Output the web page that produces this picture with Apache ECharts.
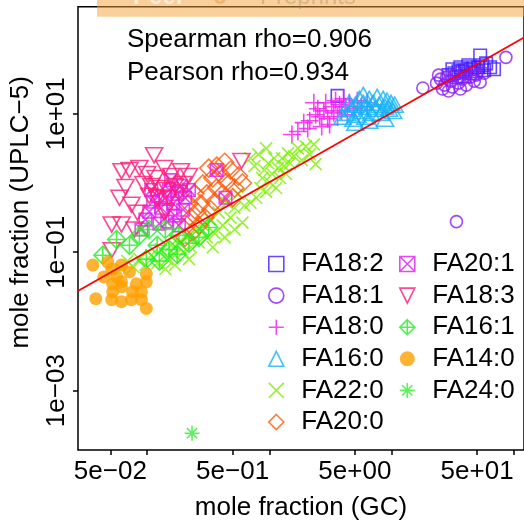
<!DOCTYPE html>
<html>
<head>
<meta charset="utf-8">
<script src="https://cdn.jsdelivr.net/npm/echarts@6/dist/echarts.min.js"></script>
<style>
  html, body { margin: 0; padding: 0; background: #ffffff; }
  #chart { width: 524px; height: 526px; }
</style>
</head>
<body>
<div id="chart"></div>
<script>
// Mole fractions measured by GC (x) and UPLC-5 (y), one pair of arrays per fatty acid.
const FA18_2_GC   = [3.61, 53.0, 63.9, 29.2, 32.6, 35.2, 37.9, 40.8, 44.0, 47.4, 51.1, 55.1, 59.3, 33.9, 39.4, 45.7, 42.4, 49.2, 57.1, 31.4, 36.5, 68.8];
const FA18_2_UPLC = [18.1, 69.6, 46.9, 36.1, 38.5, 41.1, 41.1, 43.9, 43.9, 46.9, 46.9, 50.1, 53.5, 33.8, 34.9, 38.5, 50.1, 41.1, 42.5, 43.9, 46.9, 43.9];

const FA18_1_GC   = [18.0, 86.1, 33.9, 23.3, 25.1, 27.1, 28.1, 30.3, 31.4, 32.6, 35.2, 37.9, 40.8, 44.0, 47.4, 53.0, 57.1, 26.1, 29.2, 36.5, 24.2, 39.4, 49.2];
const FA18_1_UPLC = [23.6, 65.3, 0.277, 27.7, 31.6, 25.9, 33.8, 29.6, 24.4, 36.1, 27.7, 31.6, 25.9, 33.8, 29.6, 28.6, 38.5, 22.8, 21.3, 22.8, 36.1, 38.5, 36.1];

const FA18_0_GC   = [1.53, 1.71, 2.06, 2.14, 2.39, 2.49, 2.58, 2.79, 2.89, 3.00, 3.23, 3.36, 3.48, 3.61, 3.75, 3.89, 4.04, 4.19, 4.35, 4.51, 4.87, 5.24, 5.65, 3.11, 2.68, 1.91, 2.31, 6.32];
const FA18_0_UPLC = [5.01, 5.53, 6.11, 7.94, 9.68, 11.8, 9.06, 11.0, 14.4, 8.48, 12.6, 10.3, 15.4, 9.06, 13.5, 11.0, 16.4, 12.6, 9.68, 14.4, 11.8, 15.4, 12.6, 6.97, 6.53, 7.44, 14.4, 14.4];

const FA16_0_GC   = [3.96, 4.35, 4.69, 4.87, 5.05, 5.24, 5.44, 5.65, 5.86, 6.08, 6.32, 6.56, 6.81, 7.07, 7.34, 7.61, 7.90, 8.20, 8.52, 8.84, 9.17, 9.52, 9.89, 10.3, 10.6, 4.51, 5.86, 5.05, 6.56, 8.84];
const FA16_0_UPLC = [9.06, 10.3, 11.8, 8.48, 13.5, 9.68, 16.4, 11.0, 14.4, 9.06, 12.6, 16.4, 10.3, 14.4, 11.8, 17.5, 13.5, 10.3, 16.4, 12.6, 15.4, 11.8, 14.4, 11.0, 13.5, 14.4, 18.7, 7.44, 7.94, 8.48];

const FA22_0_GC   = [0.782, 0.842, 0.875, 0.908, 0.942, 0.978, 1.015, 1.054, 1.094, 1.135, 1.178, 1.223, 1.27, 1.318, 1.368, 1.42, 1.474, 1.589, 1.711, 1.844, 1.987, 2.14, 2.31, 0.699, 0.625, 0.754, 0.942, 2.39, 0.699, 0.812,
                     0.559, 0.519, 0.481, 0.447, 0.415, 0.385, 0.357, 0.331, 0.308, 0.286, 0.265, 0.246, 0.228, 0.212, 0.197, 0.182, 0.169, 0.157, 0.431, 0.344, 0.602, 0.519,
                     0.146, 0.130, 0.121, 0.108, 0.0968, 0.0865, 0.0773, 0.0690, 0.0617, 0.141, 0.169, 0.220];
const FA22_0_UPLC = [0.611, 0.848, 1.18, 1.54, 0.744, 1.93, 1.00, 1.35, 2.28, 0.848, 1.64, 1.18, 2.28, 1.75, 1.35, 2.68, 1.93, 2.44, 3.16, 2.13, 3.38, 2.59, 3.61, 0.518, 0.469, 1.75, 3.16, 1.87, 2.28, 2.59,
                     0.697, 0.439, 0.316, 0.518, 0.244, 0.373, 0.187, 0.296, 0.164, 0.244, 0.139, 0.213, 0.118, 0.164, 0.100, 0.139, 0.0906, 0.126, 0.164, 0.118, 0.268, 0.213,
                     0.0794, 0.110, 0.0697, 0.0906, 0.0653, 0.0794, 0.0611, 0.0744, 0.0572, 0.0572, 0.0653, 0.0794];

const FA20_0_GC   = [0.602, 0.559, 0.519, 0.481, 0.447, 0.415, 0.399, 0.371, 0.357, 0.344, 0.331, 0.308, 0.297, 0.286, 0.275, 0.265, 0.255, 0.246, 0.237, 0.228, 0.220, 0.212, 0.204, 0.319, 0.431, 0.371, 0.500];
const FA20_0_UPLC = [1.00, 1.26, 0.848, 1.54, 1.03, 0.697, 1.35, 0.848, 0.535, 1.18, 0.411, 0.697, 0.316, 0.968, 0.501, 0.244, 0.385, 0.697, 0.199, 0.316, 0.501, 0.244, 0.164, 1.64, 1.99, 1.75, 0.611];

const FA20_1_GC   = [0.371, 0.438, 0.220, 0.204, 0.189, 0.176, 0.163, 0.151, 0.141, 0.130, 0.121, 0.112, 0.104, 0.0968, 0.0898, 0.169, 0.146, 0.197, 0.126, 0.108, 0.157, 0.182];
const FA20_1_UPLC = [1.54, 0.611, 0.794, 0.611, 0.906, 0.697, 0.501, 0.794, 0.611, 0.439, 0.653, 0.535, 0.385, 0.296, 0.213, 0.338, 0.277, 0.411, 0.259, 0.794, 1.10, 0.244];

const FA18_3_GC   = [0.114, 0.0617, 0.0717, 0.0865, 0.100, 0.117, 0.138, 0.157, 0.189, 0.220, 0.108, 0.126, 0.146, 0.169, 0.197, 0.0932, 0.0594, 0.0744, 0.0832, 0.0513, 0.0617, 0.0787, 0.138, 0.591, 0.143, 0.0513, 0.104, 0.121, 0.151, 0.182, 0.0665];
const FA18_3_UPLC = [2.51, 1.48, 1.54, 1.64, 1.35, 1.18, 1.64, 1.26, 1.48, 1.26, 0.906, 0.848, 0.794, 0.906, 0.968, 0.968, 0.611, 0.485, 0.373, 0.251, 0.251, 0.213, 0.373, 2.07, 0.398, 0.107, 0.653, 0.611, 0.611, 0.720, 0.876];

const FA16_1_GC   = [0.0434, 0.0563, 0.0717, 0.0865, 0.104, 0.0985, 0.126, 0.151, 0.176, 0.220, 0.265, 0.121, 0.182, 0.319, 0.141];
const FA16_1_UPLC = [0.0906, 0.153, 0.126, 0.175, 0.213, 0.0794, 0.0744, 0.110, 0.0936, 0.135, 0.164, 0.126, 0.175, 0.228, 0.213];

const FA14_0_GC   = [0.0360, 0.0513, 0.0617, 0.0717, 0.0985, 0.0985, 0.0817, 0.0523, 0.0617, 0.0759, 0.0523, 0.0380, 0.0513, 0.0617, 0.0744, 0.0898, 0.0985, 0.0617, 0.0898, 0.0563, 0.0442, 0.0476];
const FA14_0_UPLC = [0.0653, 0.0572, 0.0653, 0.0518, 0.0485, 0.0373, 0.0349, 0.0349, 0.0373, 0.0268, 0.0268, 0.0213, 0.0206, 0.0193, 0.0206, 0.0206, 0.0154, 0.0316, 0.0268, 0.0439, 0.0439, 0.0720];

const FA24_0_GC   = [0.233];
const FA24_0_UPLC = [0.000243];

// Log-log regression line, given by its two end points (clipped to the plot box)
const FIT_GC   = [0.01, 1000];
const FIT_UPLC = [0.0101, 1054];

// Correlation annotations
const STAT_LINES = ['Spearman rho=0.906', 'Pearson rho=0.934'];

// Axis ticks and labels
const X_TICKS        = [0.05, 0.1, 0.5, 1, 5, 10, 50, 100];
const X_LABEL_VALUES = [0.05, 0.5, 5, 50];
const X_LABELS       = ['5e\u221202', '5e\u221201', '5e+00', '5e+01'];
const Y_TICKS        = [0.001, 0.1, 10];
const Y_LABELS       = ['1e\u221203', '1e\u221201', '1e+01'];
const X_RANGE = [0.0272, 121];
const Y_RANGE = [0.000139, 352];

const FONT = '"Liberation Sans", Arial, Helvetica, sans-serif';

// Outline marker shapes (drawn with stroke only)
const SHAPES = {
  square:      'path://M0,0L10,0L10,10L0,10Z',
  triUp:       'path://M5,0L10,10L0,10Z',
  triDown:     'path://M0,0L10,0L5,10Z',
  diamond:     'path://M5,0L10,5L5,10L0,5Z',
  plus:        'path://M5,0L5,10M0,5L10,5',
  cross:       'path://M0,0L10,10M10,0L0,10',
  boxCross:    'path://M0,0L10,0L10,10L0,10ZM0,0L10,10M10,0L0,10',
  diamondPlus: 'path://M5,0L10,5L5,10L0,5ZM5,0L5,10M0,5L10,5',
  asterisk:    'path://M5,0L5,10M0,5L10,5M1.6,1.6L8.4,8.4M8.4,1.6L1.6,8.4'
};

const GROUPS = [
  { name: 'FA18:2', gc: FA18_2_GC, uplc: FA18_2_UPLC, color: '#3F1AFF', symbol: SHAPES.square,      size: 12.5, hollow: true },
  { name: 'FA18:1', gc: FA18_1_GC, uplc: FA18_1_UPLC, color: '#8A1CF2', symbol: 'circle',           size: 12,   hollow: true },
  { name: 'FA18:0', gc: FA18_0_GC, uplc: FA18_0_UPLC, color: '#F01CF0', symbol: SHAPES.plus,        size: 18,   hollow: true },
  { name: 'FA16:0', gc: FA16_0_GC, uplc: FA16_0_UPLC, color: '#16B2F5', symbol: SHAPES.triUp,       size: [17, 15], hollow: true },
  { name: 'FA22:0', gc: FA22_0_GC, uplc: FA22_0_UPLC, color: '#7DF000', symbol: SHAPES.cross,       size: 12,   hollow: true },
  { name: 'FA20:0', gc: FA20_0_GC, uplc: FA20_0_UPLC, color: '#FF5A0A', symbol: SHAPES.diamond,     size: 18,   hollow: true },
  { name: 'FA20:1', gc: FA20_1_GC, uplc: FA20_1_UPLC, color: '#E01CF0', symbol: SHAPES.boxCross,    size: 12.5, hollow: true },
  { name: 'FA18:3', gc: FA18_3_GC, uplc: FA18_3_UPLC, color: '#FF1A78', symbol: SHAPES.triDown,     size: [17, 15], hollow: true },
  { name: 'FA16:1', gc: FA16_1_GC, uplc: FA16_1_UPLC, color: '#22EE22', symbol: SHAPES.diamondPlus, size: 18,   hollow: true },
  { name: 'FA14:0', gc: FA14_0_GC, uplc: FA14_0_UPLC, color: '#FFA000', symbol: 'circle',           size: 13,   hollow: false },
  { name: 'FA24:0', gc: FA24_0_GC, uplc: FA24_0_UPLC, color: '#33EE33', symbol: SHAPES.asterisk,    size: 15,   hollow: true }
];

const STROKE = 1.6;

function labelFor(values, labels) {
  return function (v) {
    let best = 0;
    for (let i = 1; i < values.length; i++) {
      if (Math.abs(Math.log10(values[i] / v)) < Math.abs(Math.log10(values[best] / v))) best = i;
    }
    return labels[best];
  };
}

const scatterSeries = GROUPS.map(function (g) {
  return {
    type: 'scatter',
    name: g.name,
    data: g.gc.map(function (x, i) { return [x, g.uplc[i]]; }),
    symbol: g.symbol,
    symbolSize: g.size,
    itemStyle: g.hollow
      ? { color: 'rgba(0,0,0,0)', borderColor: g.color, borderWidth: STROKE }
      : { color: g.color, borderWidth: 0 },
    emphasis: { disabled: true },
    silent: true
  };
});

const fitSeries = {
  type: 'line',
  name: 'fit',
  data: FIT_GC.map(function (x, i) { return [x, FIT_UPLC[i]]; }),
  showSymbol: false,
  symbol: 'none',
  lineStyle: { color: '#FF0000', width: 1.7 },
  clip: true,
  silent: true,
  z: 5
};

function legendItems(groups) {
  return groups.map(function (g) {
    return g.hollow
      ? { name: g.name, itemStyle: { borderWidth: STROKE, borderColor: g.color, color: 'rgba(0,0,0,0)' } }
      : { name: g.name, itemStyle: { color: g.color, borderWidth: 0 } };
  });
}

const legendBase = {
  orient: 'vertical',
  itemWidth: 40,
  itemHeight: 15,
  itemGap: 5.6,
  padding: 0,
  selectedMode: false,
  symbolKeepAspect: true,
  textStyle: { fontSize: 26, fontFamily: FONT, color: '#000' }
};

const textStyleAxis = { fontSize: 26, fontFamily: FONT, color: '#000' };

const chart = echarts.init(document.getElementById('chart'), null, { renderer: 'canvas' });
chart.setOption({
  animation: false,
  backgroundColor: '#ffffff',
  grid: {
    left: 78, top: 6.7, width: 450, height: 448.3,
    show: true, borderColor: '#000', borderWidth: 1.5, backgroundColor: 'transparent',
    containLabel: false
  },
  xAxis: {
    type: 'log', logBase: 10,
    min: X_RANGE[0], max: X_RANGE[1],
    axisLine: { show: false },
    axisTick: { show: true, customValues: X_TICKS, length: 5, inside: false, lineStyle: { color: '#000', width: 1.5 } },
    axisLabel: Object.assign({ customValues: X_LABEL_VALUES, formatter: labelFor(X_LABEL_VALUES, X_LABELS), margin: 9, hideOverlap: false }, textStyleAxis),
    splitLine: { show: false },
    minorTick: { show: false },
    name: 'mole fraction (GC)', nameLocation: 'middle', nameGap: 45,
    nameTextStyle: textStyleAxis
  },
  yAxis: {
    type: 'log', logBase: 10,
    min: Y_RANGE[0], max: Y_RANGE[1],
    axisLine: { show: false },
    axisTick: { show: true, customValues: Y_TICKS, length: 5, inside: false, lineStyle: { color: '#000', width: 1.5 } },
    axisLabel: Object.assign({ customValues: Y_TICKS, formatter: labelFor(Y_TICKS, Y_LABELS), rotate: 90, margin: 8, hideOverlap: false }, textStyleAxis),
    splitLine: { show: false },
    minorTick: { show: false },
    name: 'mole fraction (UPLC\u22125)', nameLocation: 'middle', nameGap: 44,
    nameTextStyle: Object.assign({ padding: [0, 0, 0, 32] }, textStyleAxis)
  },
  legend: [
    Object.assign({ left: 268, top: 251, data: legendItems(GROUPS.slice(0, 6)) }, legendBase),
    Object.assign({ left: 399, top: 251, data: legendItems(GROUPS.slice(6)) }, legendBase)
  ],
  graphic: [
    { type: 'text', left: 127, top: 27, silent: true,
      style: { text: STAT_LINES[0], font: '26px ' + FONT, fill: '#000' } },
    { type: 'text', left: 127, top: 60, silent: true,
      style: { text: STAT_LINES[1], font: '26px ' + FONT, fill: '#000' } },
    // publisher banner across the top edge
    { type: 'rect', z: 100, silent: true,
      shape: { x: 97, y: 0, width: 440, height: 16.7 },
      style: { fill: 'rgba(243,159,55,0.5)' } },
    { type: 'text', z: 101, left: 133, top: -15, silent: true,
      style: { text: 'Peer', font: 'bold 24px ' + FONT, fill: 'rgba(255,255,255,0.6)' } },
    { type: 'text', z: 101, left: 214, top: -15, silent: true,
      style: { text: 'J', font: 'bold 24px ' + FONT, fill: 'rgba(240,140,40,0.4)' } },
    { type: 'text', z: 101, left: 260, top: -15, silent: true,
      style: { text: 'Preprints', font: '24px ' + FONT, fill: 'rgba(150,130,110,0.35)' } }
  ],
  series: scatterSeries.concat([fitSeries])
});
</script>
</body>
</html>
